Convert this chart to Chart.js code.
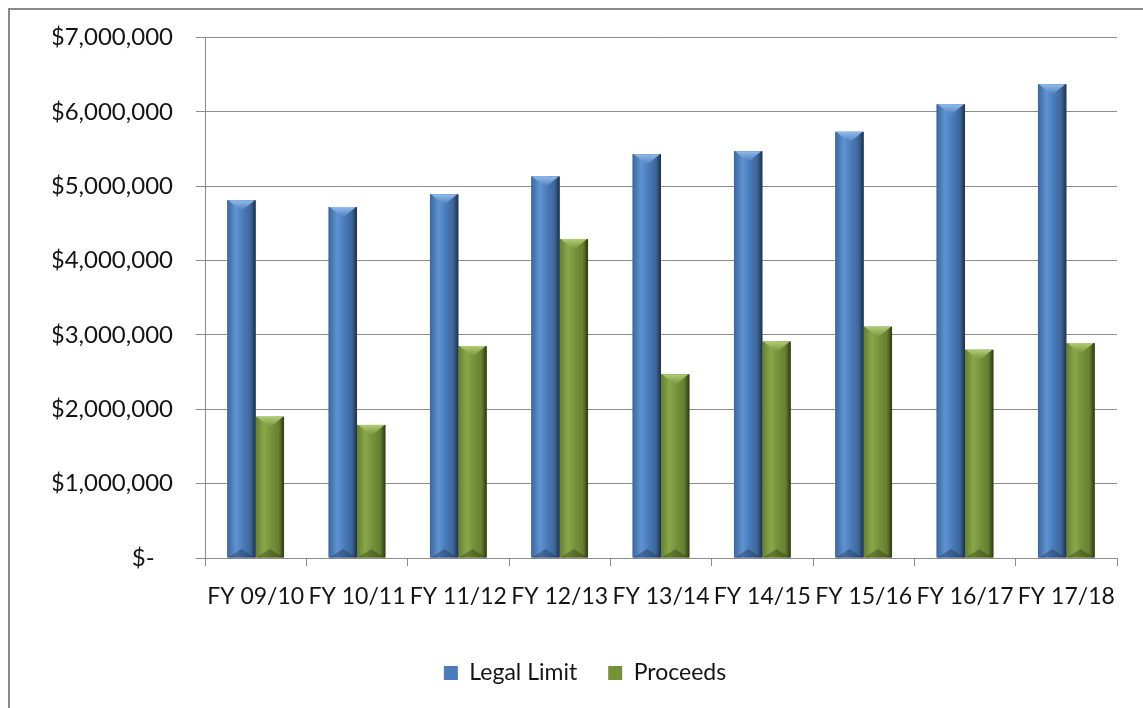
<!DOCTYPE html>
<html>
<head>
<meta charset="utf-8">
<script src="https://cdn.jsdelivr.net/npm/chart.js@4/dist/chart.umd.min.js"></script>
<style>
  body { margin: 0; background: #fff; }
  #wrap { position: relative; width: 1143px; height: 708px; overflow: hidden; }
  #frame { position: absolute; left: 8px; top: 8px; width: 2000px; height: 2000px;
           border-top: 2px solid #8a8a8a; border-left: 2px solid #8a8a8a; }
  canvas { position: absolute; left: 0; top: 0; }
</style>
</head>
<body>
<div id="wrap">
  <div id="frame"></div>
  <canvas id="chart" width="1143" height="708"></canvas>
</div>
<script>
const years = ['FY 09/10', 'FY 10/11', 'FY 11/12', 'FY 12/13', 'FY 13/14', 'FY 14/15', 'FY 15/16', 'FY 16/17', 'FY 17/18']
const legalLimit = [4810000, 4720000, 4890000, 5130000, 5430000, 5470000, 5730000, 6100000, 6370000]
const proceeds = [1900000, 1790000, 2850000, 4290000, 2470000, 2910000, 3110000, 2800000, 2890000]
const yTicks = [0, 1000000, 2000000, 3000000, 4000000, 5000000, 6000000, 7000000]

const fontName = 'Lato'
const textColor = '#141414'
const gridColor = '#8c8c8c'

// colours for the bevelled look: left, light stripe, middle, dark edge, top cap
const shades = [
    { edge: '#3c6699', light: '#5f93d3', mid: '#4a7cba', dark: '#1c304a', cap: '#92bbec', foot: 'rgba(20,35,60,0.35)' },
    { edge: '#66802f', light: '#89a84a', mid: '#74923a', dark: '#2a3812', cap: '#b0cc74', foot: 'rgba(30,40,10,0.35)' }
]

const moneyLabel = (v) => {
    if (v === 0) return '$-   '
    return '$' + v.toLocaleString('en-US')
}

// paints each bar with a bevelled gradient over the flat fill
const bevelBars = {
    id: 'bevelBars',
    afterDatasetDraw(chart, args) {
        const ctx = chart.ctx
        const s = shades[args.index]
        args.meta.data.forEach(bar => {
            const left = bar.x - bar.width / 2
            const right = bar.x + bar.width / 2
            const top = bar.y
            const base = bar.base
            const w = bar.width
            const g = ctx.createLinearGradient(left, 0, right, 0)
            g.addColorStop(0, s.edge)
            g.addColorStop(0.3, s.light)
            g.addColorStop(0.55, s.mid)
            g.addColorStop(0.82, s.edge)
            g.addColorStop(1, s.dark)
            ctx.save()
            ctx.fillStyle = g
            ctx.fillRect(left, top, w, base - top)
            // top cap
            const cg = ctx.createLinearGradient(0, top, 0, top + w * 0.38)
            cg.addColorStop(0, s.cap)
            cg.addColorStop(1, s.mid)
            ctx.fillStyle = cg
            ctx.beginPath()
            ctx.moveTo(left + 1, top)
            ctx.lineTo(right - 1, top)
            ctx.lineTo(bar.x, top + w * 0.38)
            ctx.closePath()
            ctx.fill()
            // foot shade
            ctx.fillStyle = s.foot
            ctx.beginPath()
            ctx.moveTo(left + 1, base)
            ctx.lineTo(right - 1, base)
            ctx.lineTo(bar.x, base - w * 0.3)
            ctx.closePath()
            ctx.fill()
            ctx.restore()
        })
    }
}

const data = {
    labels: years,
    datasets: [{
        label: 'Legal Limit',
        data: legalLimit,
        backgroundColor: '#4a7cba',
        borderWidth: 0
    }, {
        label: 'Proceeds',
        data: proceeds,
        backgroundColor: '#74923a',
        borderWidth: 0
    }]
}

new Chart(document.getElementById('chart'), {
    type: 'bar',
    data: data,
    plugins: [bevelBars],
    options: {
        responsive: false,
        animation: false,
        categoryPercentage: 0.56,
        barPercentage: 1.0,
        layout: { padding: { left: 53, right: 26, top: 37, bottom: 13.5 } },
        plugins: {
            tooltip: { enabled: false },
            legend: {
                position: 'bottom',
                labels: {
                    color: textColor,
                    font: { family: fontName, size: 23 },
                    boxWidth: 14,
                    boxHeight: 14,
                    padding: 31
                }
            }
        },
        scales: {
            x: {
                grid: { drawOnChartArea: false, drawTicks: true, tickLength: 8, color: gridColor, offset: true },
                border: { color: gridColor, width: 1 },
                ticks: { color: textColor, font: { family: fontName, size: 23 }, padding: 17, maxRotation: 0, autoSkip: false },
                afterFit: (scale) => { scale.height = 72.5 }
            },
            y: {
                min: 0,
                max: 7000000,
                afterBuildTicks: (scale) => { scale.ticks = yTicks.map(v => ({ value: v })) },
                grid: { color: gridColor, tickLength: 9 },
                border: { color: gridColor, width: 1 },
                ticks: { color: textColor, font: { family: fontName, size: 24 }, padding: 23, callback: moneyLabel },
                afterFit: (scale) => { scale.width = 152 }
            }
        }
    }
})
</script>
</body>
</html>
